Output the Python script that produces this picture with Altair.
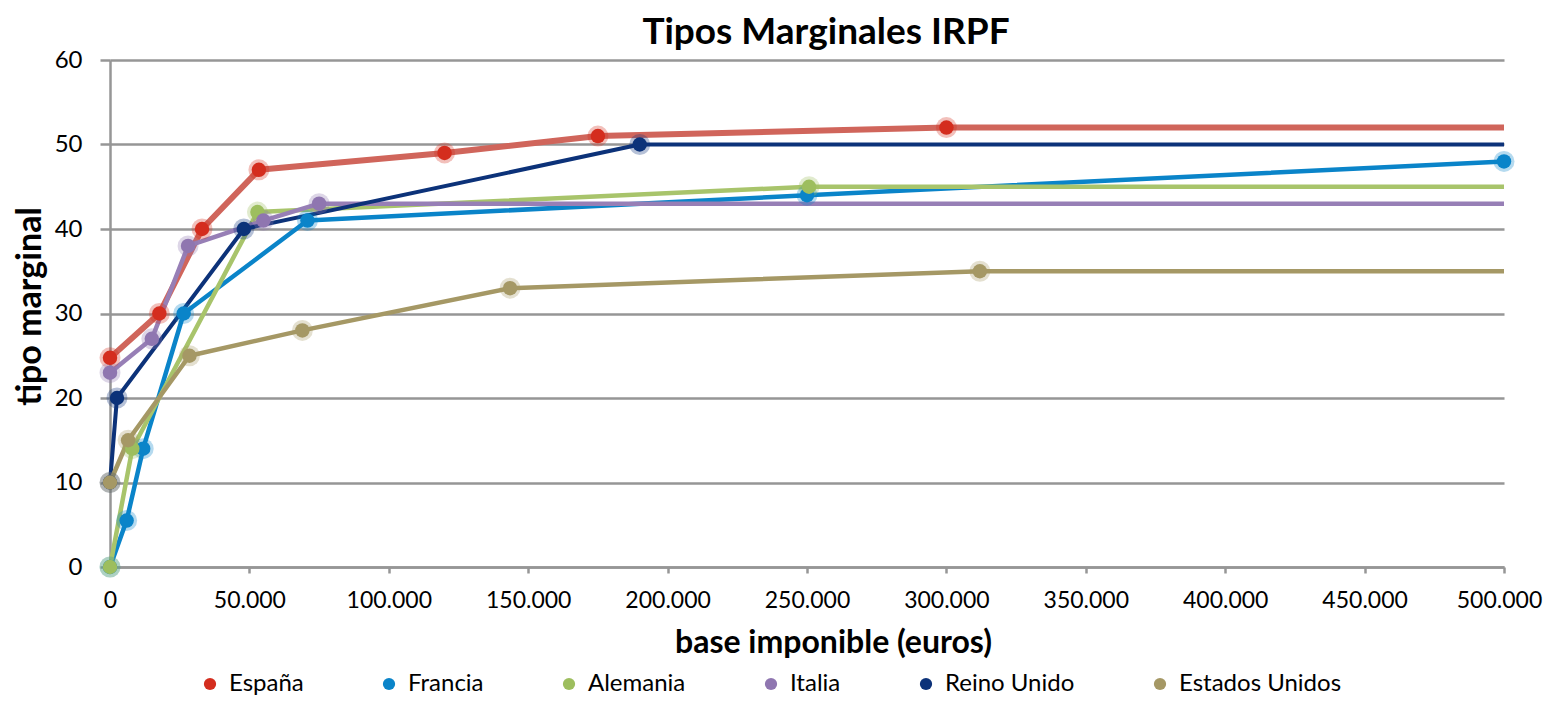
import altair as alt
import pandas as pd

countries = ["España", "Francia", "Alemania", "Italia", "Reino Unido", "Estados Unidos"]

espana_x = [0, 17707, 33007, 53407, 120000, 175000, 300000, 500000]
espana_y = [24.75, 30, 40, 47, 49, 51, 52, 52]
francia_x = [0, 5963, 11896, 26420, 70830, 250000, 500000]
francia_y = [0, 5.5, 14, 30, 41, 44, 48]
alemania_x = [0, 8004, 52882, 250731, 500000]
alemania_y = [0, 14, 42, 45, 45]
italia_x = [0, 15000, 28000, 55000, 75000, 500000]
italia_y = [23, 27, 38, 41, 43, 43]
reino_x = [0, 2500, 48000, 190000, 500000]
reino_y = [10, 20, 40, 50, 50]
eeuu_x = [0, 6500, 28500, 69000, 143500, 312000, 500000]
eeuu_y = [10, 15, 25, 28, 33, 35, 35]

# whether the last (500.000) point carries a marker
last_marker = [False, True, False, False, False, False]

line_colors = ["#D0655B", "#0A84C9", "#A8C46B", "#977FB6", "#0C3279", "#A59865"]
marker_colors = ["#D42D1E", "#0A84C9", "#9DBE5E", "#8F76B0", "#0C3279", "#A59865"]
line_widths = [6, 4.5, 4.5, 4.5, 4, 4.5]

series = [(espana_x, espana_y), (francia_x, francia_y), (alemania_x, alemania_y),
          (italia_x, italia_y), (reino_x, reino_y), (eeuu_x, eeuu_y)]

rows = []
for i, (c, (xs, ys)) in enumerate(zip(countries, series)):
    for j, (xv, yv) in enumerate(zip(xs, ys)):
        is_last = j == len(xs) - 1
        rows.append({
            "pais": c, "orden": i, "idx": j, "base": xv, "tipo": yv,
            "lc": line_colors[i], "lw": line_widths[i],
            "marker": (not is_last) or last_marker[i],
        })
df = pd.DataFrame(rows)

FONT = "Lato"

x_enc = alt.X("base:Q", scale=alt.Scale(domain=[0, 500000], nice=False),
              axis=alt.Axis(values=list(range(0, 500001, 50000)),
                            labelExpr="datum.value == 0 ? '0' : format(datum.value/1000, 'd') + '.000'",
                            title="base imponible (euros)", grid=False, labelFlush=False,
                            labelOffset=alt.condition("datum.value == 500000", alt.value(-5), alt.value(0)),
                            tickSize=6, labelPadding=16, titleX=723, titleY=75,
                            titleFontSize=32, labelFontSize=23,
                            titleAnchor="start", titleAlign="center", titleBaseline="middle"))
y_enc = alt.Y("tipo:Q", scale=alt.Scale(domain=[0, 60], nice=False),
              axis=alt.Axis(values=list(range(0, 61, 10)), title="tipo marginal",
                            grid=True, tickSize=10, labelPadding=18,
                            titleFontSize=34, labelFontSize=24,
                            titleX=-80, titleY=246, titleAngle=-90,
                            titleAlign="center", titleBaseline="middle"))

legend = alt.Legend(title=None, orient="none", direction="horizontal",
                    columns=6, legendX=88, legendY=612, padding=0,
                    symbolType="circle", symbolSize=150, labelLimit=400,
                    labelFontSize=24, labelFont=FONT, labelColor="#000000",
                    columnPadding=73, labelOffset=7,
                    symbolStrokeWidth=0)
color_scale = alt.Scale(domain=countries, range=marker_colors)

lines = alt.Chart(df).mark_line(strokeJoin="round", strokeCap="butt").encode(
    x=x_enc, y=y_enc,
    detail="pais:N",
    color=alt.Color("lc:N", scale=None),
    strokeWidth=alt.StrokeWidth("lw:Q", scale=None),
    order="idx:Q",
)

pts = df[df["marker"]]

halo = alt.Chart(pts).mark_point(filled=True, shape="circle", size=440, opacity=0.3).encode(
    x="base:Q", y="tipo:Q",
    color=alt.Color("pais:N", scale=color_scale, legend=legend),
)
core = alt.Chart(pts).mark_point(filled=True, shape="circle", size=210, opacity=1).encode(
    x="base:Q", y="tipo:Q",
    color=alt.Color("pais:N", scale=color_scale, legend=legend),
)

chart = alt.layer(lines, halo, core).properties(
    width=1394, height=507,
    title=alt.TitleParams("Tipos Marginales IRPF", font=FONT, fontSize=37, fontWeight="bold",
                          anchor="middle", frame="group", offset=-4, dx=19, color="#000000"),
    autosize=alt.AutoSizeParams(type="none"),
    padding={"left": 102, "top": 52, "right": 41, "bottom": 134},
).configure_view(stroke=None).configure_axis(
    labelFont=FONT, labelColor="#000000",
    titleFont=FONT, titleFontWeight="bold", titleColor="#000000",
    domainColor="#969696", domainWidth=2.5, tickColor="#969696", tickWidth=2.5,
    gridColor="#969696", gridWidth=2.5,
).configure_legend(symbolOpacity=1)

chart.save("out.html", embed_options={"renderer": "svg", "actions": False})
